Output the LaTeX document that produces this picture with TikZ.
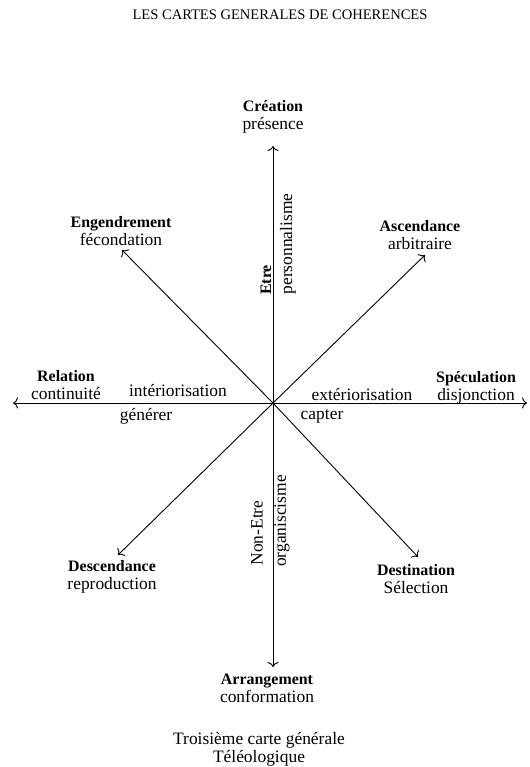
\documentclass[tikz,border=0pt]{standalone}
\usepackage{fontspec}
\setmainfont{Liberation Serif}
\usetikzlibrary{positioning}
\usetikzlibrary{arrows.meta}
\newcommand{\bigword}[1]{{\bfseries\fontsize{16}{18}\selectfont #1}}

\begin{document}
\begin{tikzpicture}[x=1bp,y=-1bp
  ,every node/.style={inner sep=0pt,font=\fontsize{17.5}{18}\selectfont}
  ,pole/.style={align=center}
  ,axis/.style={line width=0.9bp,-{To[length=5bp,width=11bp]}}
  ]
  \useasboundingbox (0,0) rectangle (530,767);
  \node (title) at (280,15) {\fontsize{14.6}{16}\selectfont LES CARTES GENERALES DE COHERENCES};
  % the eight directions
  \coordinate (o) at (273,403);
  \coordinate (n) at (273,146);
  \coordinate (s) at (273,667);
  \coordinate (w) at (13,403);
  \coordinate (e) at (527,403);
  \coordinate (nw) at (122,250);
  \coordinate (ne) at (425,255);
  \coordinate (sw) at (118,555);
  \coordinate (se) at (418,557);
  \foreach \t in {n,s,w,e,nw,ne,sw,se}
    \draw[axis] (o) -- (\t);
  % poles
  \node[pole] (crea) at (273,117) {\bigword{Création}\\présence};
  \node[pole] (engen) at (121,231) {\bigword{Engendrement}\\fécondation};
  \node[pole] (ascend) at (420,235) {\bigword{Ascendance}\\arbitraire};
  \node[pole] (relat) at (66,385) {\bigword{Relation}\\continuité};
  \node[pole] (specul) at (476,388) {\bigword{Spéculation}\\disjonction};
  \node[pole] (desc) at (112,577) {\bigword{Descendance}\\reproduction};
  \node[pole] (dest) at (416,579) {\bigword{Destination}\\Sélection};
  \node[pole] (arrang) at (267,688) {\bigword{Arrangement}\\conformation};
  \node[pole] (caption) at (259,749) {Troisième carte générale\\Téléologique};
  % along the axes
  \node (interior) at (178,391) {intériorisation};
  \node (generer) at (146,416) {générer};
  \node (exterior) at (362,395) {extériorisation};
  \node (capter) at (322,416) {capter};
  \node[rotate=90] (etre) at (266,280) {\bigword{Etre}};
  \node[rotate=90] (person) at (288,244) {personnalisme};
  \node[rotate=90] (nonetre) at (257,533) {Non-Etre};
  \node[rotate=90] (organ) at (282,521) {organiscisme};
\end{tikzpicture}
\end{document}
